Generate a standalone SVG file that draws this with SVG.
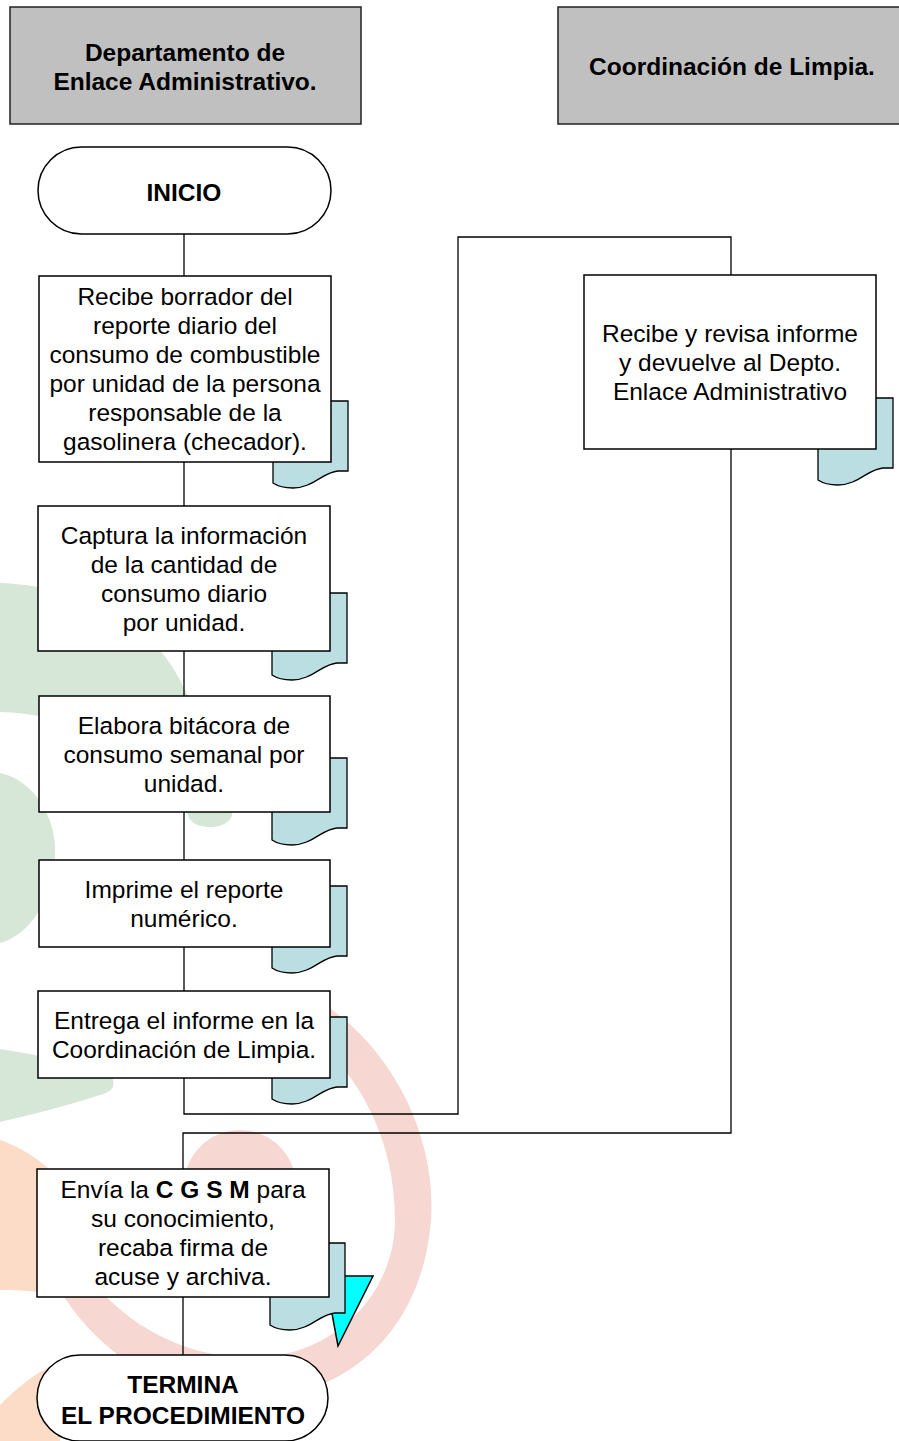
<svg xmlns="http://www.w3.org/2000/svg" width="899" height="1441" viewBox="0 0 899 1441">
<style>
.t{font-family:"Liberation Sans",Arial,sans-serif;font-size:24.5px;fill:#000;text-anchor:middle}
.b{font-weight:bold}
.box{fill:#fff;stroke:#000;stroke-width:1.5}
.hdr{fill:#c0c0c0;stroke:#222;stroke-width:1.5}
.doc{fill:#bbdee3;stroke:#000;stroke-width:1.3}
.ln{fill:none;stroke:#000;stroke-width:1.3}
.g{fill:#d7e7d7}
.r{fill:#f6d7d1}
.o{fill:#fcdcc7}
</style>
<defs>
<path id="docshape" d="M0,0 H75 V70 H65 C50,71 40,87 20,87 C10,87 3,84 0,82 Z"/>
</defs>
<rect width="899" height="1441" fill="#fff"/>
<g id="watermark">
<path class="g" d="M0,583 C80,586 150,620 180,680 C205,730 225,780 232,812 C234,830 192,833 188,815 C160,760 90,715 0,712 Z"/>
<path class="g" d="M0,773 C35,780 58,820 55,858 C52,900 30,935 0,943 Z"/>
<path class="g" d="M0,1049 C40,1055 85,1065 110,1075 C118,1085 112,1092 100,1095 C70,1105 30,1115 0,1122 Z"/>
<path class="r" d="M325,1005 C400,1055 440,1150 430,1230 C420,1320 360,1392 260,1398 C170,1405 95,1350 60,1290 L100,1290 C140,1335 200,1360 260,1358 C340,1352 395,1290 395,1220 C395,1140 360,1075 310,1035 Z"/>
<circle class="r" cx="240" cy="1186" r="56"/>
<path class="o" d="M0,1140 C30,1150 60,1175 80,1200 L80,1300 C50,1292 25,1290 0,1290 Z"/>
<path class="o" d="M0,1405 C15,1390 35,1372 55,1365 L60,1441 L0,1441 Z"/>
</g>
<g id="connectors">
<polyline class="ln" points="184,234 184,276"/>
<polyline class="ln" points="184,462 184,506"/>
<polyline class="ln" points="184,651 184,696"/>
<polyline class="ln" points="184,812 184,860"/>
<polyline class="ln" points="184,947 184,991"/>
<polyline class="ln" points="184,1078 184,1114 458,1114 458,237 731,237 731,275"/>
<polyline class="ln" points="731,449 731,1133 183,1133 183,1169"/>
<polyline class="ln" points="183,1297 183,1355"/>
</g>
<g id="lane1">
<rect class="hdr" x="10" y="7" width="351" height="117"/>
<text class="t b" x="185" y="61">Departamento de</text>
<text class="t b" x="185" y="90">Enlace Administrativo.</text>
</g>
<g id="lane2">
<rect class="hdr" x="558" y="7" width="348" height="117"/>
<text class="t b" x="732" y="75">Coordinación de Limpia.</text>
</g>
<g id="inicio">
<rect class="box" x="38" y="147" width="293" height="87" rx="43.5" ry="43.5"/>
<text class="t b" x="184" y="201">INICIO</text>
</g>
<g id="step1">
<use class="doc" href="#docshape" x="273" y="401"/>
<rect class="box" x="39" y="276" width="292" height="186"/>
<text class="t" x="185" y="305">Recibe borrador del</text>
<text class="t" x="185" y="334">reporte diario del</text>
<text class="t" x="185" y="363">consumo de combustible</text>
<text class="t" x="185" y="392">por unidad de la persona</text>
<text class="t" x="185" y="421">responsable de la</text>
<text class="t" x="185" y="450">gasolinera (checador).</text>
</g>
<g id="step2">
<use class="doc" href="#docshape" x="272" y="593"/>
<rect class="box" x="38" y="506" width="292" height="145"/>
<text class="t" x="184" y="544">Captura la información</text>
<text class="t" x="184" y="573">de la cantidad de</text>
<text class="t" x="184" y="602">consumo diario</text>
<text class="t" x="184" y="631">por unidad.</text>
</g>
<g id="step3">
<use class="doc" href="#docshape" x="272" y="758"/>
<rect class="box" x="39" y="696" width="291" height="116"/>
<text class="t" x="184" y="734">Elabora bitácora de</text>
<text class="t" x="184" y="763">consumo semanal por</text>
<text class="t" x="184" y="792">unidad.</text>
</g>
<g id="step4">
<use class="doc" href="#docshape" x="272" y="886"/>
<rect class="box" x="39" y="860" width="291" height="87"/>
<text class="t" x="184" y="898">Imprime el reporte</text>
<text class="t" x="184" y="927">numérico.</text>
</g>
<g id="step5">
<use class="doc" href="#docshape" x="272" y="1017"/>
<rect class="box" x="38" y="991" width="292" height="87"/>
<text class="t" x="184" y="1029">Entrega el informe en la</text>
<text class="t" x="184" y="1058">Coordinación de Limpia.</text>
</g>
<g id="step6">
<use class="doc" href="#docshape" x="818" y="398"/>
<rect class="box" x="584" y="275" width="292" height="174"/>
<text class="t" x="730" y="342">Recibe y revisa informe</text>
<text class="t" x="730" y="371">y devuelve al Depto.</text>
<text class="t" x="730" y="400">Enlace Administrativo</text>
</g>
<g id="step7">
<polygon points="325,1276 373,1276 338,1346" fill="#00ffff" stroke="#000" stroke-width="1.5"/>
<use class="doc" href="#docshape" x="270" y="1243"/>
<rect class="box" x="37" y="1169" width="292" height="128"/>
<text class="t" x="183" y="1198"><tspan>Envía la </tspan><tspan class="b">C G S M</tspan><tspan> para</tspan></text>
<text class="t" x="183" y="1227">su conocimiento,</text>
<text class="t" x="183" y="1256">recaba firma de</text>
<text class="t" x="183" y="1285">acuse y archiva.</text>
</g>
<g id="fin">
<rect class="box" x="37" y="1355" width="291" height="86" rx="43" ry="43"/>
<text class="t b" x="183" y="1393">TERMINA</text>
<text class="t b" x="183" y="1424">EL PROCEDIMIENTO</text>
</g>
</svg>
